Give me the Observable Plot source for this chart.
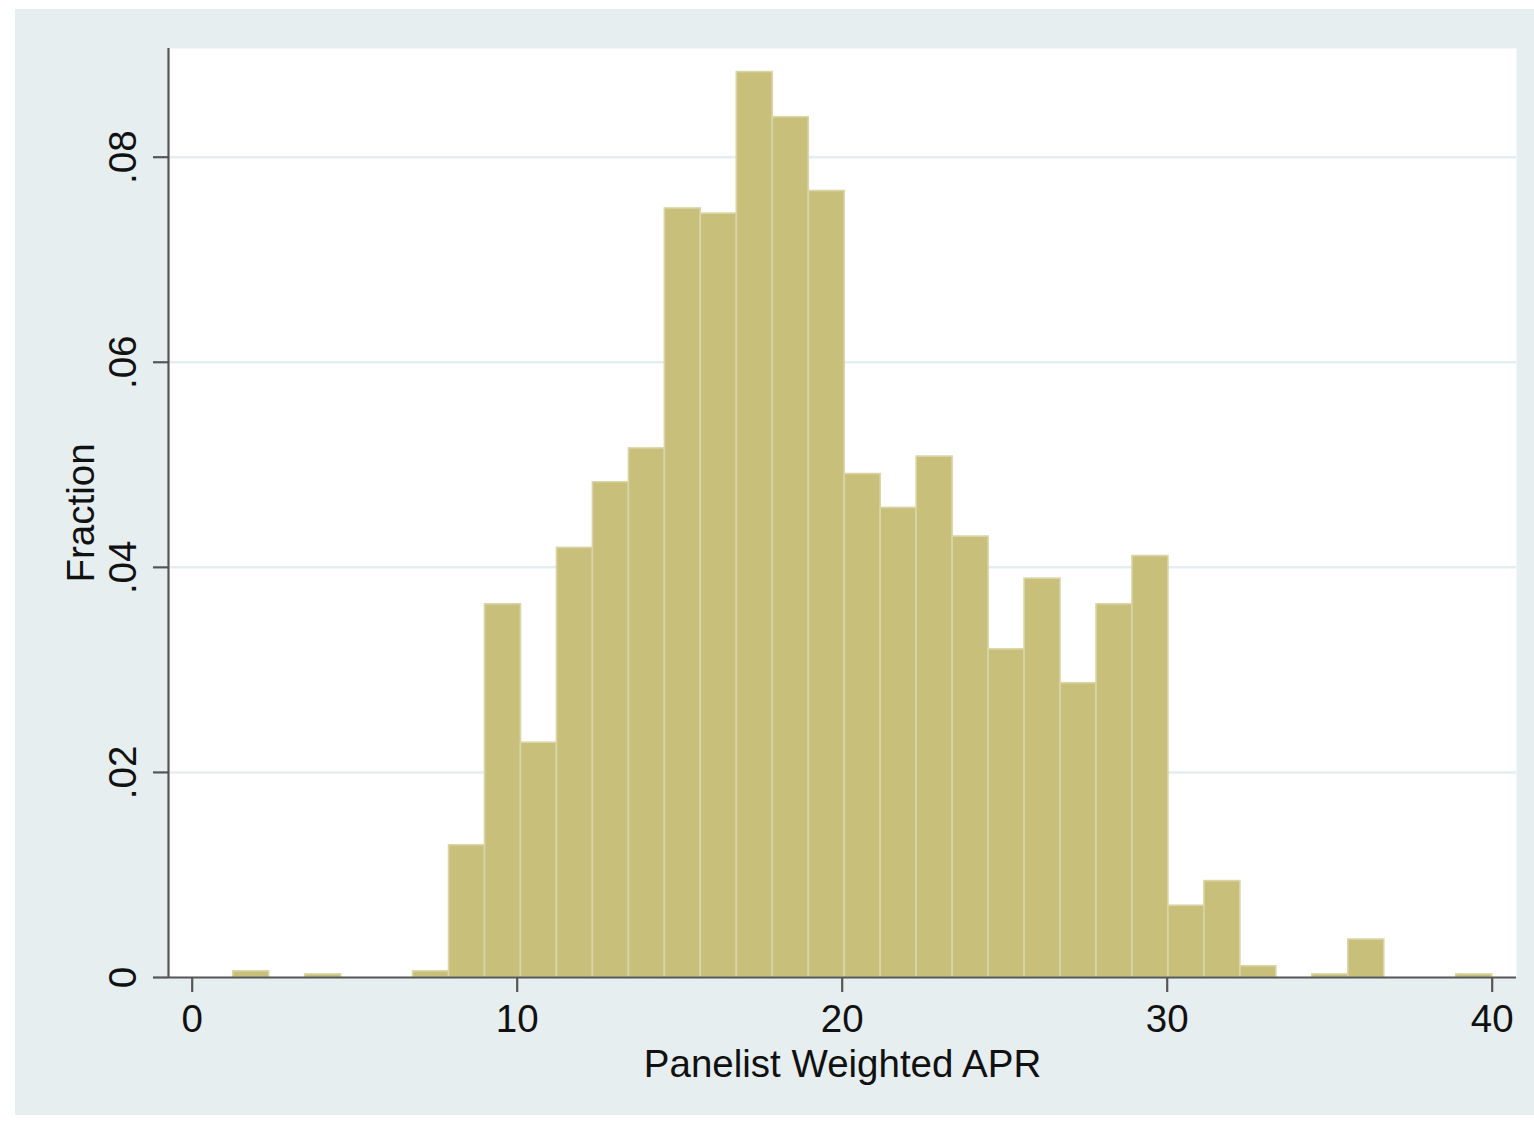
<!DOCTYPE html>
<html>
<head>
<meta charset="utf-8">
<script src="https://cdn.jsdelivr.net/npm/d3@7"></script>
<script src="https://cdn.jsdelivr.net/npm/@observablehq/plot@0.6"></script>
<style>
  html, body { margin: 0; padding: 0; background: #ffffff; width: 1534px; height: 1121px; overflow: hidden; }
  #bg { position: absolute; left: 15px; top: 9px; width: 1519px; height: 1106px; background: #e6eef0; }
  #chart { position: absolute; left: 0; top: 0; }
</style>
</head>
<body>
<div id="bg"></div>
<div id="chart"></div>
<script>
// Histogram bin edges (Panelist Weighted APR)
const binEdges = [1.262, 2.369, 3.476, 4.582, 5.689, 6.796, 7.903, 9.010, 10.116, 11.223,
  12.330, 13.437, 14.544, 15.650, 16.757, 17.864, 18.971, 20.078, 21.184, 22.291,
  23.398, 24.505, 25.612, 26.718, 27.825, 28.932, 30.039, 31.146, 32.252, 33.359,
  34.466, 35.573, 36.680, 37.786, 38.893, 40.000];
// Fraction per bin
const fractions = [0.0006, 0, 0.0003, 0, 0, 0.0006, 0.0129, 0.0364, 0.0229, 0.0419,
  0.0483, 0.0516, 0.0750, 0.0745, 0.0883, 0.0839, 0.0767, 0.0491, 0.0458, 0.0508,
  0.0430, 0.0320, 0.0389, 0.0287, 0.0364, 0.0411, 0.0070, 0.0094, 0.0011, 0,
  0.0003, 0.0037, 0, 0, 0.0003];
const xTicks = [0, 10, 20, 30, 40];
const yTicks = [0, 0.02, 0.04, 0.06, 0.08];
const yGrid = [0.02, 0.04, 0.06, 0.08];
const xLabel = "Panelist Weighted APR";
const yLabel = "Fraction";
const xDomain = [-0.729, 40.748];
const yDomain = [0, 0.0906];

const bins = fractions.map((f, i) => ({x1: binEdges[i], x2: binEdges[i + 1], frac: f}))
  .filter(d => d.frac > 0);

const FONT = "'Liberation Sans', Arial, Helvetica, sans-serif";
const AX = "#555555";
const fmtY = d => d === 0 ? "0" : d.toFixed(2).replace(/^0/, "");

const chart = Plot.plot({
  width: 1534,
  height: 1121,
  marginLeft: 168,
  marginRight: 18,
  marginTop: 48,
  marginBottom: 144,
  style: {background: "transparent", fontFamily: FONT},
  x: {domain: xDomain, axis: null},
  y: {domain: yDomain, axis: null},
  marks: [
    Plot.frame({fill: "white", stroke: null}),
    Plot.gridY(yGrid, {stroke: "#e4edef", strokeOpacity: 1, strokeWidth: 2.5}),
    Plot.rect(bins, {x1: "x1", x2: "x2", y1: () => 0, y2: "frac",
      fill: "#c8c07a", stroke: "#dad5a6", strokeWidth: 1.6}),
    Plot.ruleY([0], {stroke: AX, strokeWidth: 2.2}),
    Plot.ruleX([xDomain[0]], {stroke: AX, strokeWidth: 2.2}),
    Plot.axisX({ticks: xTicks, tickSize: 15, tickFormat: () => "", label: null, stroke: AX, strokeWidth: 2.2}),
    Plot.axisY({ticks: yTicks, tickSize: 15, tickFormat: () => "", label: null, stroke: AX, strokeWidth: 2.2}),
    Plot.text(xTicks, {x: d => d, frameAnchor: "bottom", lineAnchor: "bottom", dy: 54.5,
      text: d => String(d), fontSize: 38.5, fill: "#111111", textAnchor: "middle"}),
    Plot.text(yTicks, {y: d => d, frameAnchor: "left", lineAnchor: "bottom", dx: -33, rotate: -90,
      text: fmtY, fontSize: 38.5, fill: "#111111", textAnchor: "middle"}),
    Plot.text([xLabel], {frameAnchor: "bottom", lineAnchor: "bottom", dy: 99,
      text: d => d, fontSize: 38.5, fill: "#111111", textAnchor: "middle"}),
    Plot.text([yLabel], {frameAnchor: "left", lineAnchor: "bottom", dx: -75, rotate: -90,
      text: d => d, fontSize: 38.5, fill: "#111111", textAnchor: "middle"})
  ]
});
document.getElementById("chart").appendChild(chart);
</script>
</body>
</html>
